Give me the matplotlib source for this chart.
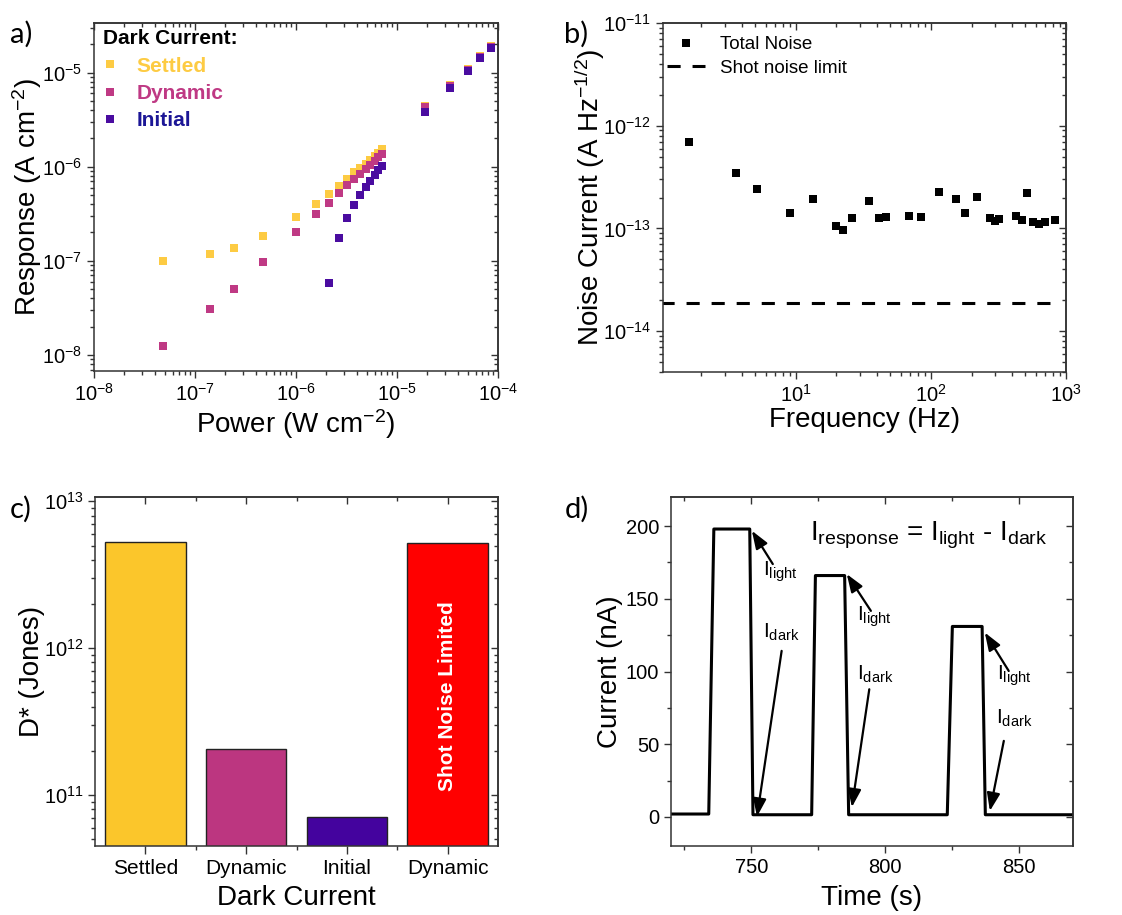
import matplotlib
matplotlib.use('Agg')
import matplotlib.pyplot as plt
from matplotlib.lines import Line2D
from matplotlib.ticker import NullFormatter

plt.rcParams['font.family'] = ['Liberation Sans', 'DejaVu Sans']
plt.rcParams['mathtext.fontset'] = 'custom'
plt.rcParams['mathtext.rm'] = 'Liberation Sans'
plt.rcParams['mathtext.it'] = 'Liberation Sans:italic'
plt.rcParams['mathtext.bf'] = 'Liberation Sans:bold'
plt.rcParams['axes.unicode_minus'] = False
plt.rcParams['axes.linewidth'] = 1.1
plt.rcParams['axes.edgecolor'] = '#333333'

# a) response vs power for the three dark current references
power = [4.86e-8, 1.42e-7, 2.44e-7, 4.66e-7, 9.98e-7, 1.56e-6, 2.12e-6, 2.67e-6,
         3.23e-6, 3.78e-6, 4.32e-6, 4.88e-6, 5.43e-6, 6.0e-6, 6.49e-6, 7.06e-6,
         1.91e-5, 3.32e-5, 5.05e-5, 6.63e-5, 8.52e-5]
resp_settled = [1.0e-7, 1.18e-7, 1.37e-7, 1.84e-7, 2.91e-7, 4.02e-7, 5.12e-7, 6.26e-7,
                7.41e-7, 8.7e-7, 9.74e-7, 1.08e-6, 1.19e-6, 1.30e-6, 1.41e-6, 1.53e-6,
                4.42e-6, 7.39e-6, 1.08e-5, 1.48e-5, 1.89e-5]
resp_dynamic = [1.245e-8, 3.09e-8, 5.05e-8, 9.76e-8, 2.03e-7, 3.11e-7, 4.15e-7, 5.28e-7,
                6.41e-7, 7.47e-7, 8.42e-7, 9.43e-7, 1.047e-6, 1.153e-6, 1.26e-6, 1.365e-6,
                4.28e-6, 7.21e-6, 1.07e-5, 1.46e-5, 1.86e-5]
power_initial = power[6:]
resp_initial = [5.83e-8, 1.73e-7, 2.82e-7, 3.89e-7, 5.04e-7, 6.06e-7, 7.11e-7, 8.15e-7,
                9.2e-7, 1.02e-6, 3.82e-6, 6.81e-6, 1.03e-5, 1.42e-5, 1.80e-5]

# b) noise spectrum
freq = [1.62, 3.6, 5.14, 9.1, 13.4, 19.8, 22.2, 26.0, 34.9, 41.4, 46.4, 69.1, 84.4,
        114.6, 154, 179.6, 220, 273, 300, 321, 424, 470, 512, 573, 634, 698, 824]
noise = [6.9e-13, 3.5e-13, 2.44e-13, 1.40e-13, 1.94e-13, 1.05e-13, 0.96e-13, 1.26e-13,
         1.85e-13, 1.26e-13, 1.28e-13, 1.31e-13, 1.30e-13, 2.28e-13, 1.94e-13, 1.41e-13,
         2.02e-13, 1.27e-13, 1.17e-13, 1.24e-13, 1.32e-13, 1.21e-13, 2.2e-13, 1.15e-13,
         1.10e-13, 1.15e-13, 1.21e-13]
shot_freq = [1.0, 824]
shot_noise = [1.9e-14, 1.9e-14]

# c) specific detectivity
bar_labels = ['Settled', 'Dynamic', 'Initial', 'Dynamic']
dstar = [5.26e12, 2.07e11, 7.1e10, 5.18e12]
bar_colors = ['#fbc62b', '#bc3680', '#44039e', '#ff0000']

# d) transient photocurrent
t = [720, 734.1, 736.0, 749.4, 750.6, 772.5, 773.9, 784.8, 786.3, 823.1, 825.0,
     836.1, 837.3, 870]
current = [2.0, 2.0, 198, 198, 1.5, 1.5, 166, 166, 1.5, 1.5, 131, 131, 1.5, 1.5]

c_settled = '#fdcb43'
c_dynamic = '#bf3984'
c_initial = '#4a0ca0'

TICK = 14.5
LABEL = 20


def style(ax):
    ax.tick_params(which='both', direction='out', labelsize=TICK, width=1.0,
                   color='#333333')
    ax.tick_params(which='major', length=5)
    ax.tick_params(which='minor', length=3)
    top = ax.secondary_xaxis('top')
    right = ax.secondary_yaxis('right')
    for sec, axis in ((top, top.xaxis), (right, right.yaxis)):
        sec.tick_params(which='both', direction='in', width=1.0, color='#333333')
        sec.tick_params(which='major', length=5)
        sec.tick_params(which='minor', length=3)
        axis.set_major_formatter(NullFormatter())
        axis.set_minor_formatter(NullFormatter())
    return top, right


fig = plt.figure(figsize=(11.22, 9.15), dpi=100)

# ---- a)
ax = fig.add_axes([0.0838, 0.5945, 0.3601, 0.3803])
ax.set_xscale('log')
ax.set_yscale('log')
ms = 5.8
ax.plot(power, resp_settled, 's', color=c_settled, ms=ms, mew=0)
ax.plot(power, resp_dynamic, 's', color=c_dynamic, ms=ms, mew=0)
ax.plot(power_initial, resp_initial, 's', color=c_initial, ms=ms, mew=0)
ax.set_xlim(1e-8, 1e-4)
ax.set_ylim(6.76e-9, 3.35e-5)
ax.set_xlabel(r'Power (W cm$^{\mathregular{-2}}$)', fontsize=LABEL)
ax.set_ylabel(r'Response (A cm$^{\mathregular{-2}}$)', fontsize=LABEL)
ax.yaxis.set_label_coords(-0.125, 0.5)
ax.xaxis.set_label_coords(0.5, -0.105)
style(ax)
handles = [Line2D([], [], ls='none', marker='s', ms=5.5, mew=0, color=c)
           for c in (c_settled, c_dynamic, c_initial)]
ax.legend(handles, ['Settled', 'Dynamic', 'Initial'], loc='upper left',
          bbox_to_anchor=(-0.018, 1.03), frameon=False, title='Dark Current:',
          title_fontproperties={'weight': 'bold', 'size': 15},
          prop={'weight': 'bold', 'size': 15},
          labelcolor=[c_settled, c_dynamic, '#1c1696'],
          handlelength=0.6, handletextpad=1.0, labelspacing=0.4,
          alignment='left', borderaxespad=0.4)

# ---- b)
ax = fig.add_axes([0.5909, 0.5934, 0.3592, 0.3814])
ax.set_xscale('log')
ax.set_yscale('log')
ax.plot(freq, noise, 's', color='black', ms=5.5, mew=0, label='Total Noise')
ax.plot(shot_freq, shot_noise, color='black', lw=2.2, dashes=(4.3, 3.9),
        label='Shot noise limit')
ax.set_xlim(1.04, 1000)
ax.set_ylim(4e-15, 1e-11)
ax.set_xlabel('Frequency (Hz)', fontsize=LABEL)
ax.set_ylabel(r'Noise Current (A Hz$^{\mathregular{-1/2}}$)', fontsize=LABEL)
ax.yaxis.set_label_coords(-0.138, 0.5)
ax.xaxis.set_label_coords(0.5, -0.1)
style(ax)
ax.legend(loc='upper left', bbox_to_anchor=(-0.022, 1.0), frameon=False,
          fontsize=13.5, handlelength=2.0, handletextpad=0.8, labelspacing=0.35,
          borderaxespad=0.3)

# ---- c)
ax = fig.add_axes([0.0847, 0.0754, 0.3592, 0.3814])
ax.set_yscale('log')
xpos = range(len(dstar))
ax.bar(xpos, dstar, width=0.8, color=bar_colors, edgecolor='#222222', lw=1.0)
ax.set_xlim(-0.5, 3.5)
ax.set_ylim(4.5e10, 1.07e13)
ax.set_xticks(list(xpos))
ax.set_xticklabels(bar_labels)
ax.set_xticks([0.5, 1.5, 2.5], minor=True)
ax.set_xlabel('Dark Current', fontsize=LABEL)
ax.set_ylabel('D* (Jones)', fontsize=LABEL)
ax.yaxis.set_label_coords(-0.125, 0.5)
ax.xaxis.set_label_coords(0.5, -0.112)
top, right = style(ax)
top.set_xticks(list(xpos))
top.set_xticks([0.5, 1.5, 2.5], minor=True)
ax.tick_params(axis='x', which='major', length=6, labelsize=15)
ax.text(3, 4.69e11, 'Shot Noise Limited', rotation=90, color='white',
        fontsize=15, fontweight='bold', ha='center', va='center')

# ---- d)
ax = fig.add_axes([0.598, 0.0754, 0.3583, 0.3814])
ax.plot(t, current, color='black', lw=2.2, solid_joinstyle='round')
ax.set_xlim(720, 870)
ax.set_ylim(-20, 220)
ax.set_xticks([750, 800, 850])
ax.set_xticks([725, 775, 825], minor=True)
ax.set_yticks([0, 50, 100, 150, 200])
ax.set_yticks([25, 75, 125, 175], minor=True)
ax.set_xlabel('Time (s)', fontsize=LABEL)
ax.set_ylabel('Current (nA)', fontsize=LABEL)
ax.yaxis.set_label_coords(-0.12, 0.5)
ax.xaxis.set_label_coords(0.5, -0.112)
top, right = style(ax)
top.set_xticks([750, 800, 850])
top.set_xticks([725, 775, 825], minor=True)
right.set_yticks([0, 50, 100, 150, 200])
right.set_yticks([25, 75, 125, 175], minor=True)

ax.text(771.7, 189.9,
        r'I$_{\mathregular{response}}$ = I$_{\mathregular{light}}$ - I$_{\mathregular{dark}}$',
        fontsize=20, ha='left', va='baseline')

light_txt = r'I$_{\mathregular{light}}$'
dark_txt = r'I$_{\mathregular{dark}}$'
labels_d = [(754.3, 165.8, light_txt), (754.3, 123.4, dark_txt),
            (789.4, 134.9, light_txt), (789.6, 94.7, dark_txt),
            (841.7, 94.7, light_txt), (841.1, 63.8, dark_txt)]
arrows_d = [((758.0, 173.9), (750.2, 196.8)), ((761.3, 114.2), (752.1, 0.2)),
            ((794.6, 141.7), (785.6, 167.0)), ((794.0, 87.8), (787.5, 6.7)),
            ((846.0, 100.5), (837.1, 126.8)), ((844.2, 52.3), (839.0, 4.1))]
for x, y, s in labels_d:
    ax.text(x, y, s, fontsize=15, ha='left', va='baseline')
for tail, head in arrows_d:
    ax.annotate('', xy=head, xytext=tail,
                arrowprops=dict(arrowstyle='-|>,head_length=0.6,head_width=0.22',
                                color='black', lw=1.6, mutation_scale=18,
                                shrinkA=0, shrinkB=0))

# panel letters
for x, y, s in [(0.009, 0.953, 'a)'), (0.503, 0.953, 'b)'),
                (0.009, 0.434, 'c)'), (0.503, 0.434, 'd)')]:
    fig.text(x, y, s, fontsize=21, family=['Lato', 'DejaVu Sans'])

fig.savefig('out.png', dpi=100)
